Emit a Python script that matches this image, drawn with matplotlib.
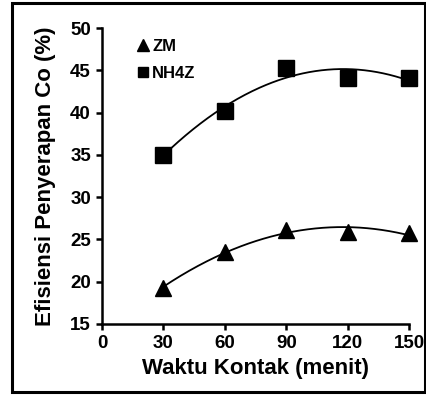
import numpy as np
import matplotlib
matplotlib.use('Agg')
import matplotlib.pyplot as plt
from matplotlib.patches import Rectangle

plt.rcParams['font.family'] = ['Liberation Sans', 'DejaVu Sans']

waktu = [30, 60, 90, 120, 150]
zm = [19.3, 23.5, 26.1, 25.9, 25.7]
nh4z = [35.0, 40.2, 45.3, 44.1, 44.1]

fig = plt.figure(figsize=(4.27, 3.95), dpi=100)
ax = fig.add_axes([0.239, 0.180, 0.719, 0.749])

# garis tren polinomial orde 2
xs = np.linspace(30, 150, 200)
for y in (zm, nh4z):
    c = np.polyfit(waktu, y, 2)
    ax.plot(xs, np.polyval(c, xs), color='black', lw=1.3, zorder=2)

ax.plot(waktu, zm, '^', color='black', ms=12, ls='none', label='ZM', zorder=3, clip_on=False)
ax.plot(waktu, nh4z, 's', color='black', ms=11, ls='none', label='NH4Z', zorder=3, clip_on=False)

ax.set_xlim(0, 150)
ax.set_ylim(15, 50)
ax.set_xticks([0, 30, 60, 90, 120, 150])
ax.set_yticks([15, 20, 25, 30, 35, 40, 45, 50])
ax.spines['top'].set_visible(False)
ax.spines['right'].set_visible(False)
ax.spines['left'].set_linewidth(1.8)
ax.spines['bottom'].set_linewidth(1.8)
ax.tick_params(direction='out', length=4, width=1.8, labelsize=13.5, pad=4)
for t in ax.get_xticklabels() + ax.get_yticklabels():
    t.set_fontweight('bold')

ax.set_xlabel('Waktu Kontak (menit)', fontsize=16, fontweight='bold', labelpad=4)
ax.set_ylabel('Efisiensi Penyerapan Co (%)', fontsize=16, fontweight='bold', labelpad=10)

leg = ax.legend(loc='upper left', bbox_to_anchor=(0.117, 0.964), frameon=False,
                borderpad=0, borderaxespad=0,
                handlelength=0.6, handletextpad=0.25, markerscale=0.7,
                labelspacing=0.74, prop={'weight': 'bold', 'size': 12})

fig.patches.append(Rectangle((12 / 427, 3 / 395), 413 / 427, 389 / 395,
                             transform=fig.transFigure, fill=False,
                             edgecolor='black', lw=2.2))

fig.savefig('out.png', dpi=100)
